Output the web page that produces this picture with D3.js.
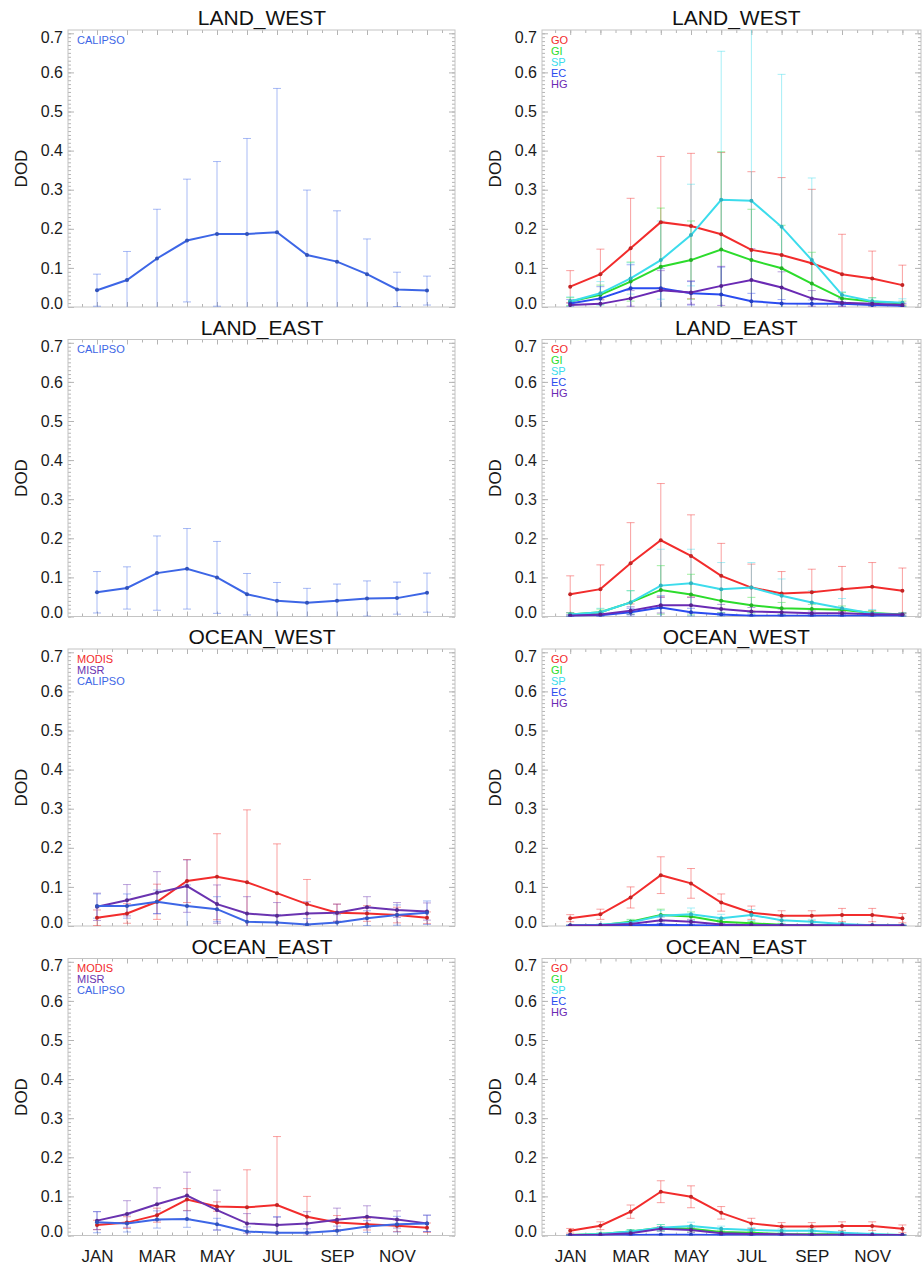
<!DOCTYPE html>
<html>
<head>
<meta charset="utf-8">
<script src="https://cdn.jsdelivr.net/npm/d3@7"></script>
<style>
  body { margin: 0; background: #fff; }
  svg text { font-family: "Liberation Sans", Arial, sans-serif; }
  .tick line { stroke: #b4b4b4; }
  .tick text { fill: #1a1a1a; font-size: 16px; }
</style>
</head>
<body>
<div id="chart"></div>
<script>
// months on the x axis (1..12); only every other one is labelled
var months = [1, 2, 3, 4, 5, 6, 7, 8, 9, 10, 11, 12];
var monthLabels = ["JAN", "", "MAR", "", "MAY", "", "JUL", "", "SEP", "", "NOV", ""];
var yTicks = [0, 0.1, 0.2, 0.3, 0.4, 0.5, 0.6, 0.7];

// ---- left column: satellite retrievals (mean and spread) ----
var lwCalipso   = [0.043, 0.069, 0.124, 0.170, 0.187, 0.187, 0.191, 0.133, 0.116, 0.084, 0.045, 0.042];
var lwCalipsoSd = [0.041, 0.073, 0.126, 0.157, 0.185, 0.244, 0.368, 0.166, 0.130, 0.090, 0.044, 0.037];

var leCalipso   = [0.062, 0.073, 0.111, 0.122, 0.100, 0.057, 0.040, 0.035, 0.040, 0.046, 0.047, 0.061];
var leCalipsoSd = [0.053, 0.054, 0.095, 0.103, 0.092, 0.053, 0.047, 0.037, 0.043, 0.045, 0.041, 0.050];

var owModis     = [0.021, 0.032, 0.062, 0.115, 0.126, 0.112, 0.084, 0.056, 0.034, 0.032, 0.028, 0.021];
var owModisSd   = [0.020, 0.025, 0.045, 0.055, 0.110, 0.185, 0.126, 0.063, 0.022, 0.020, 0.020, 0.015];
var owMisr      = [0.049, 0.066, 0.085, 0.102, 0.056, 0.032, 0.026, 0.032, 0.034, 0.048, 0.041, 0.037];
var owMisrSd    = [0.035, 0.040, 0.054, 0.067, 0.049, 0.043, 0.034, 0.030, 0.022, 0.027, 0.019, 0.022];
var owCalipso   = [0.051, 0.051, 0.062, 0.051, 0.043, 0.011, 0.009, 0.004, 0.009, 0.020, 0.028, 0.034];
var owCalipsoSd = [0.031, 0.031, 0.030, 0.054, 0.032, 0.021, 0.020, 0.015, 0.020, 0.019, 0.026, 0.030];

var oeModis     = [0.027, 0.033, 0.052, 0.092, 0.074, 0.072, 0.078, 0.048, 0.033, 0.029, 0.025, 0.020];
var oeModisSd   = [0.012, 0.015, 0.018, 0.028, 0.012, 0.096, 0.175, 0.052, 0.018, 0.015, 0.015, 0.012];
var oeMisr      = [0.038, 0.055, 0.080, 0.102, 0.065, 0.031, 0.027, 0.031, 0.040, 0.048, 0.041, 0.031];
var oeMisrSd    = [0.023, 0.034, 0.042, 0.060, 0.051, 0.025, 0.020, 0.030, 0.030, 0.028, 0.022, 0.021];
var oeCalipso   = [0.034, 0.031, 0.041, 0.042, 0.029, 0.010, 0.007, 0.007, 0.012, 0.023, 0.029, 0.031];
var oeCalipsoSd = [0.027, 0.022, 0.022, 0.021, 0.015, 0.012, 0.041, 0.010, 0.012, 0.015, 0.020, 0.021];

// ---- right column: model source regions ----
var lwGO   = [0.052, 0.084, 0.150, 0.217, 0.207, 0.186, 0.146, 0.133, 0.112, 0.084, 0.073, 0.056];
var lwGOsd = [0.041, 0.064, 0.128, 0.168, 0.186, 0.209, 0.200, 0.198, 0.189, 0.102, 0.070, 0.051];
var lwGI   = [0.014, 0.031, 0.065, 0.103, 0.120, 0.147, 0.120, 0.099, 0.060, 0.022, 0.014, 0.009];
var lwGIsd = [0.010, 0.025, 0.050, 0.150, 0.100, 0.250, 0.130, 0.110, 0.080, 0.015, 0.010, 0.006];
var lwSP   = [0.014, 0.035, 0.073, 0.120, 0.184, 0.274, 0.272, 0.205, 0.120, 0.031, 0.015, 0.011];
var lwSPsd = [0.012, 0.030, 0.040, 0.100, 0.130, 0.380, 0.500, 0.390, 0.210, 0.008, 0.008, 0.010];
var lwEC   = [0.009, 0.022, 0.048, 0.048, 0.035, 0.032, 0.015, 0.009, 0.008, 0.008, 0.005, 0.003];
var lwECsd = [0.010, 0.030, 0.060, 0.050, 0.030, 0.070, 0.020, 0.010, 0.010, 0.005, 0.005, 0.005];
var lwHG   = [0.005, 0.008, 0.022, 0.043, 0.037, 0.054, 0.069, 0.050, 0.022, 0.011, 0.008, 0.005];
var lwHGsd = [0.005, 0.010, 0.020, 0.050, 0.030, 0.050, 0.080, 0.040, 0.020, 0.010, 0.005, 0.005];

var leGO   = [0.057, 0.070, 0.136, 0.195, 0.155, 0.104, 0.074, 0.059, 0.062, 0.070, 0.076, 0.066];
var leGOsd = [0.047, 0.062, 0.104, 0.145, 0.105, 0.083, 0.060, 0.056, 0.059, 0.058, 0.062, 0.058];
var leGI   = [0.005, 0.011, 0.036, 0.068, 0.056, 0.040, 0.029, 0.021, 0.019, 0.017, 0.009, 0.005];
var leGIsd = [0.004, 0.008, 0.030, 0.062, 0.052, 0.030, 0.020, 0.015, 0.012, 0.010, 0.006, 0.004];
var leSP   = [0.005, 0.011, 0.036, 0.079, 0.085, 0.070, 0.074, 0.053, 0.036, 0.021, 0.008, 0.004];
var leSPsd = [0.005, 0.010, 0.030, 0.093, 0.087, 0.068, 0.064, 0.043, 0.030, 0.025, 0.010, 0.005];
var leEC   = [0.002, 0.003, 0.011, 0.023, 0.011, 0.005, 0.002, 0.002, 0.002, 0.002, 0.002, 0.002];
var leECsd = [0.002, 0.003, 0.010, 0.030, 0.010, 0.004, 0.002, 0.002, 0.002, 0.002, 0.002, 0.002];
var leHG   = [0.002, 0.005, 0.015, 0.029, 0.029, 0.019, 0.013, 0.011, 0.008, 0.008, 0.006, 0.005];
var leHGsd = [0.002, 0.004, 0.010, 0.020, 0.020, 0.012, 0.010, 0.008, 0.006, 0.006, 0.004, 0.004];

var owGO   = [0.020, 0.030, 0.073, 0.130, 0.109, 0.060, 0.034, 0.026, 0.026, 0.028, 0.028, 0.020];
var owGOsd = [0.009, 0.013, 0.027, 0.047, 0.038, 0.022, 0.017, 0.013, 0.013, 0.017, 0.017, 0.012];
var owGI   = [0.001, 0.002, 0.011, 0.028, 0.024, 0.011, 0.007, 0.003, 0.002, 0.002, 0.001, 0.001];
var owGIsd = [0.001, 0.002, 0.006, 0.015, 0.012, 0.006, 0.004, 0.002, 0.002, 0.001, 0.001, 0.001];
var owSP   = [0.001, 0.003, 0.009, 0.026, 0.030, 0.020, 0.028, 0.015, 0.011, 0.005, 0.002, 0.001];
var owSPsd = [0.001, 0.002, 0.006, 0.014, 0.016, 0.010, 0.014, 0.008, 0.006, 0.004, 0.002, 0.001];
var owEC   = [0.001, 0.001, 0.002, 0.003, 0.002, 0.001, 0.001, 0.001, 0.001, 0.001, 0.001, 0.001];
var owECsd = [0.001, 0.001, 0.001, 0.002, 0.001, 0.001, 0.001, 0.001, 0.001, 0.001, 0.001, 0.001];
var owHG   = [0.001, 0.002, 0.005, 0.015, 0.011, 0.004, 0.002, 0.002, 0.002, 0.001, 0.001, 0.001];
var owHGsd = [0.001, 0.001, 0.003, 0.008, 0.006, 0.003, 0.002, 0.001, 0.001, 0.001, 0.001, 0.001];

var oeGO   = [0.012, 0.025, 0.061, 0.112, 0.099, 0.058, 0.031, 0.023, 0.023, 0.024, 0.024, 0.017];
var oeGOsd = [0.006, 0.010, 0.017, 0.028, 0.028, 0.016, 0.013, 0.010, 0.010, 0.011, 0.011, 0.010];
var oeGI   = [0.001, 0.004, 0.010, 0.020, 0.017, 0.009, 0.007, 0.004, 0.003, 0.003, 0.002, 0.001];
var oeGIsd = [0.001, 0.002, 0.005, 0.008, 0.008, 0.005, 0.004, 0.002, 0.002, 0.002, 0.001, 0.001];
var oeSP   = [0.001, 0.004, 0.010, 0.020, 0.024, 0.017, 0.014, 0.012, 0.012, 0.007, 0.004, 0.001];
var oeSPsd = [0.001, 0.002, 0.005, 0.008, 0.010, 0.007, 0.006, 0.005, 0.005, 0.004, 0.002, 0.001];
var oeEC   = [0.001, 0.001, 0.001, 0.002, 0.002, 0.001, 0.001, 0.001, 0.001, 0.001, 0.001, 0.001];
var oeECsd = [0.001, 0.001, 0.001, 0.001, 0.001, 0.001, 0.001, 0.001, 0.001, 0.001, 0.001, 0.001];
var oeHG   = [0.001, 0.002, 0.006, 0.017, 0.014, 0.006, 0.004, 0.003, 0.002, 0.002, 0.001, 0.001];
var oeHGsd = [0.001, 0.001, 0.003, 0.006, 0.006, 0.003, 0.002, 0.001, 0.001, 0.001, 0.001, 0.001];

var colours = {
    MODIS: "#f22c2c", MISR: "#6a33b0", CALIPSO: "#3d66e6",
    GO: "#f22c2c", GI: "#2cdc2c", SP: "#3cdcec", EC: "#2a4cf0", HG: "#6a2ab4"
};

function ser(name, mean, sd) { return {name: name, mean: mean, sd: sd}; }

var panels = [
    {title: "LAND_WEST", col: 0, row: 0, series: [ser("CALIPSO", lwCalipso, lwCalipsoSd)]},
    {title: "LAND_WEST", col: 1, row: 0, series: [ser("GO", lwGO, lwGOsd), ser("GI", lwGI, lwGIsd),
        ser("SP", lwSP, lwSPsd), ser("EC", lwEC, lwECsd), ser("HG", lwHG, lwHGsd)]},
    {title: "LAND_EAST", col: 0, row: 1, series: [ser("CALIPSO", leCalipso, leCalipsoSd)]},
    {title: "LAND_EAST", col: 1, row: 1, series: [ser("GO", leGO, leGOsd), ser("GI", leGI, leGIsd),
        ser("SP", leSP, leSPsd), ser("EC", leEC, leECsd), ser("HG", leHG, leHGsd)]},
    {title: "OCEAN_WEST", col: 0, row: 2, series: [ser("MODIS", owModis, owModisSd),
        ser("MISR", owMisr, owMisrSd), ser("CALIPSO", owCalipso, owCalipsoSd)]},
    {title: "OCEAN_WEST", col: 1, row: 2, series: [ser("GO", owGO, owGOsd), ser("GI", owGI, owGIsd),
        ser("SP", owSP, owSPsd), ser("EC", owEC, owECsd), ser("HG", owHG, owHGsd)]},
    {title: "OCEAN_EAST", col: 0, row: 3, series: [ser("MODIS", oeModis, oeModisSd),
        ser("MISR", oeMisr, oeMisrSd), ser("CALIPSO", oeCalipso, oeCalipsoSd)]},
    {title: "OCEAN_EAST", col: 1, row: 3, series: [ser("GO", oeGO, oeGOsd), ser("GI", oeGI, oeGIsd),
        ser("SP", oeSP, oeSPsd), ser("EC", oeEC, oeECsd), ser("HG", oeHG, oeHGsd)]}
];

var width = 923, height = 1270;
var rowStep = 309.5;
// frame edges per column
var frameX = [[68, 455], [542, 921]];
var xRange = [[67, 457], [540, 932.6]];
var frameTop = 30, frameBottom = 307;

var svg = d3.select("#chart").append("svg")
    .attr("width", width)
    .attr("height", height);

function draw_panel(p, idx)
{
    var off = p.row * rowStep;
    var fx = frameX[p.col];
    var x = d3.scaleLinear().domain([0, 13]).range(xRange[p.col]);
    var y = d3.scaleLinear().domain([0, (frameBottom - frameTop) / 391]).range([frameBottom + off, frameTop + off]);
    var g = svg.append("g");

    g.append("clipPath").attr("id", "clip" + idx)
        .append("rect")
        .attr("x", fx[0]).attr("y", frameTop + off)
        .attr("width", fx[1] - fx[0]).attr("height", frameBottom - frameTop);

    // title
    g.append("text")
        .attr("x", x(6.5))
        .attr("y", 25 + off)
        .attr("text-anchor", "middle")
        .style("font-size", "21px")
        .style("fill", "#111")
        .text(p.title);

    // y label
    var ylx = p.col === 0 ? 21 : 495;
    g.append("text")
        .attr("transform", "translate(" + ylx + "," + ((frameTop + frameBottom) / 2 + off) + ") rotate(-90)")
        .attr("text-anchor", "middle")
        .attr("dy", "0.35em")
        .style("font-size", "17px")
        .style("fill", "#1a1a1a")
        .text("DOD");

    // minor ticks
    var yMinor = d3.range(0, 71).map(function(d) { return d / 100; });
    var xMinor = d3.range(1, 26).map(function(d) { return d / 2; });
    g.append("g").attr("transform", "translate(" + fx[0] + ",0)")
        .call(d3.axisLeft(y).tickValues(yMinor).tickSize(-3).tickFormat(""));
    g.append("g").attr("transform", "translate(" + fx[1] + ",0)")
        .call(d3.axisRight(y).tickValues(yMinor).tickSize(-3).tickFormat(""));
    g.append("g").attr("transform", "translate(0," + (frameTop + off) + ")")
        .call(d3.axisTop(x).tickValues(xMinor).tickSize(-3).tickFormat(""));
    g.append("g").attr("transform", "translate(0," + (frameBottom + off) + ")")
        .call(d3.axisBottom(x).tickValues(xMinor).tickSize(-3).tickFormat(""));

    // major ticks and labels
    var yAxis = g.append("g").attr("transform", "translate(" + fx[0] + ",0)")
        .call(d3.axisLeft(y).tickValues(yTicks).tickSize(-6).tickPadding(5).tickFormat(d3.format(".1f")));
    // the end labels sit a little inside the frame, as in the original plot
    yAxis.selectAll(".tick text")
        .attr("dy", function(d) { return d === 0 ? "0.07em" : (d === 0.7 ? "0.55em" : "0.32em"); });
    g.append("g").attr("transform", "translate(" + fx[1] + ",0)")
        .call(d3.axisRight(y).tickValues(yTicks).tickSize(-6).tickFormat(""));
    g.append("g").attr("transform", "translate(0," + (frameTop + off) + ")")
        .call(d3.axisTop(x).tickValues(months).tickSize(-5).tickFormat(""));
    var xAxis = g.append("g").attr("transform", "translate(0," + (frameBottom + off) + ")")
        .call(d3.axisBottom(x).tickValues(months).tickSize(-5).tickPadding(14)
            .tickFormat(function(d) { return p.row === 3 ? monthLabels[d - 1] : ""; }));
    xAxis.selectAll(".tick text").style("font-size", "17px");
    g.selectAll(".domain").remove();

    // frame
    g.append("rect")
        .attr("x", fx[0]).attr("y", frameTop + off)
        .attr("width", fx[1] - fx[0]).attr("height", frameBottom - frameTop)
        .attr("fill", "none")
        .attr("stroke", "#c4c4c4")
        .attr("stroke-width", 1);

    var plot = g.append("g").attr("clip-path", "url(#clip" + idx + ")");
    var line = d3.line()
        .x(function(d, i) { return x(months[i]); })
        .y(function(d) { return y(d); });

    // error bars
    p.series.forEach(function(s)
    {
        var eb = plot.append("g")
            .attr("stroke", colours[s.name])
            .attr("stroke-opacity", 0.45)
            .attr("stroke-width", 1);
        eb.selectAll(".bar")
            .data(s.mean)
            .enter().append("path")
            .attr("fill", "none")
            .attr("d", function(d, i) {
                var xi = x(months[i]);
                var lo = y(d - s.sd[i]), hi = y(d + s.sd[i]);
                return "M" + xi + "," + lo + "V" + hi +
                    "M" + (xi - 4) + "," + hi + "H" + (xi + 4) +
                    "M" + (xi - 4) + "," + lo + "H" + (xi + 4);
            });
    });

    // lines and markers
    p.series.forEach(function(s)
    {
        plot.append("path")
            .datum(s.mean)
            .attr("fill", "none")
            .attr("stroke", colours[s.name])
            .attr("stroke-width", 2)
            .attr("d", line);
        plot.selectAll(null)
            .data(s.mean)
            .enter().append("circle")
            .attr("cx", function(d, i) { return x(months[i]); })
            .attr("cy", function(d) { return y(d); })
            .attr("r", 2)
            .attr("fill", d3.color(colours[s.name]).darker(0.6));
    });

    // legend
    g.selectAll(".legend")
        .data(p.series)
        .enter().append("text")
        .attr("x", fx[0] + 9)
        .attr("y", function(d, i) { return 43.5 + i * 11 + off; })
        .style("font-size", "11px")
        .style("fill", function(d) { return colours[d.name]; })
        .text(function(d) { return d.name; });
}

panels.forEach(draw_panel);
</script>
</body>
</html>
